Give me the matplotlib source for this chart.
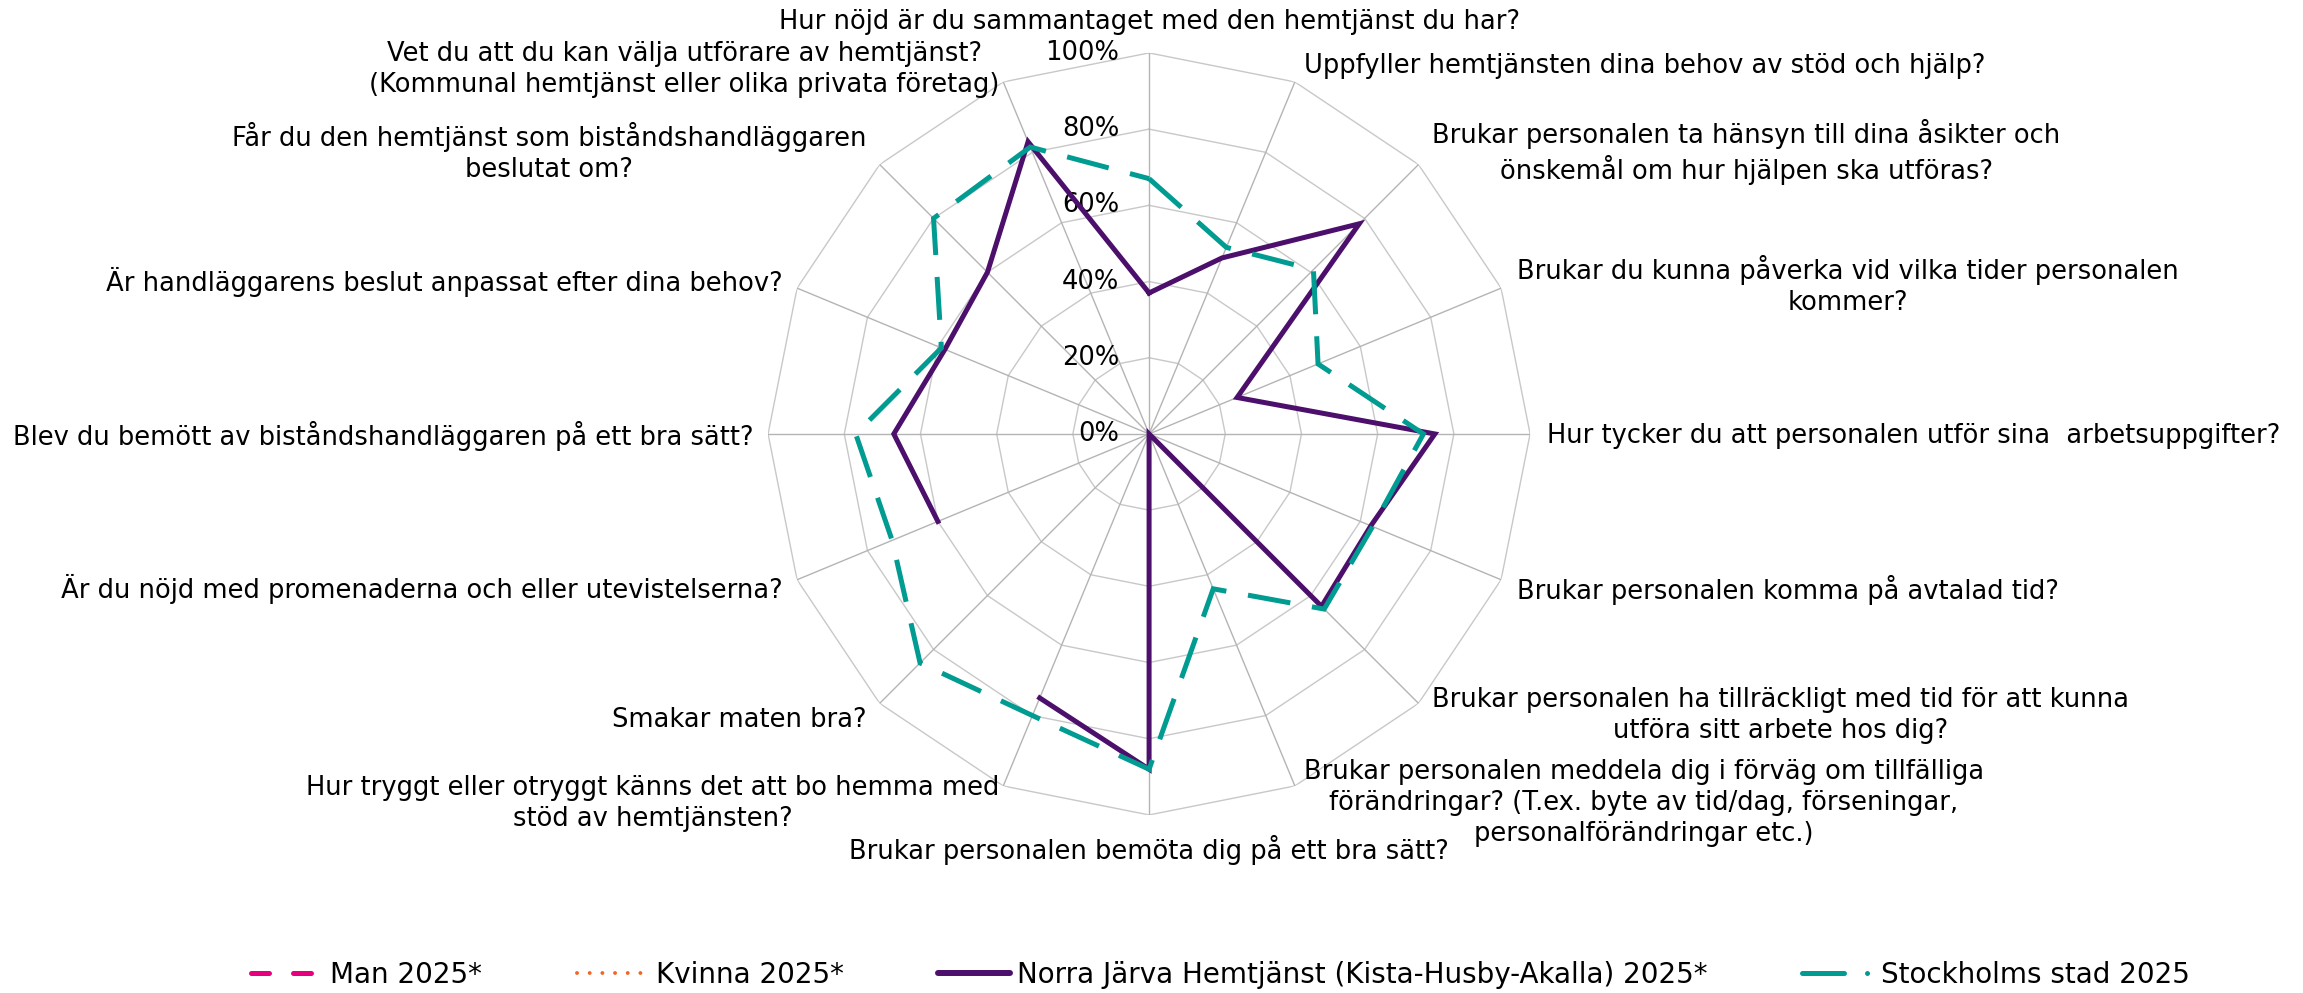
import numpy as np
import matplotlib.pyplot as plt
from matplotlib.lines import Line2D

plt.rcParams['font.family'] = ['DejaVu Sans']

# Frågor (kategorier), medurs från toppen
categories = [
    'Hur nöjd är du sammantaget med den hemtjänst du har?',
    'Uppfyller hemtjänsten dina behov av stöd och hjälp?',
    'Brukar personalen ta hänsyn till dina åsikter och\nönskemål om hur hjälpen ska utföras?',
    'Brukar du kunna påverka vid vilka tider personalen\nkommer?',
    'Hur tycker du att personalen utför sina  arbetsuppgifter?',
    'Brukar personalen komma på avtalad tid?',
    'Brukar personalen ha tillräckligt med tid för att kunna\nutföra sitt arbete hos dig?',
    'Brukar personalen meddela dig i förväg om tillfälliga\nförändringar? (T.ex. byte av tid/dag, förseningar,\npersonalförändringar etc.)',
    'Brukar personalen bemöta dig på ett bra sätt?',
    'Hur tryggt eller otryggt känns det att bo hemma med\nstöd av hemtjänsten?',
    'Smakar maten bra?',
    'Är du nöjd med promenaderna och eller utevistelserna?',
    'Blev du bemött av biståndshandläggaren på ett bra sätt?',
    'Är handläggarens beslut anpassat efter dina behov?',
    'Får du den hemtjänst som biståndshandläggaren\nbeslutat om?',
    'Vet du att du kan välja utförare av hemtjänst?\n(Kommunal hemtjänst eller olika privata företag)',
]

series_names = ['Man 2025*', 'Kvinna 2025*',
                'Norra Järva Hemtjänst (Kista-Husby-Akalla) 2025*',
                'Stockholms stad 2025']

# värden i procent (saknas = nan)
man_2025 = [np.nan] * 16
kvinna_2025 = [np.nan] * 16
norra_jarva_2025 = [37, 50, 78, 25, 75, 63, 64, 0, 88, 75, np.nan, 60, 67, 58, 60, 83]
stockholm_2025 = [67, 53, 61, 48, 72, 63.5, 65, 44, 88, 80, 85, 73, 77, 59, 80, 81.5]

r_ticks = [0, 20, 40, 60, 80, 100]
r_labels = ['0%', '20%', '40%', '60%', '80%', '100%']

# label offsets in pixels from spoke tip (dx, dy down)
label_off = [(0, -31), (9, -16), (14, -13), (16, -3), (17, 2), (16, 10), (14, 12), (9, 17),
             (0, 35), (-4, 18), (-13, 17), (-14, 9), (-15, 2), (-14, -6), (-13, -12), (-4, -12)]

c_man = '#E6007E'
c_kvinna = '#F26522'
c_norra = '#4C0F6B'
c_sthlm = '#009B91'
fs = 18.5

fig = plt.figure(figsize=(23.03, 9.93), dpi=100)
ax = fig.add_axes([0.3335, 0.1793, 0.3309, 0.7674], projection='polar')
ax.set_theta_zero_location('N')
ax.set_theta_direction(-1)
ax.set_ylim(0, 100)
ax.axis('off')

n = len(categories)
theta = np.arange(n) * 2 * np.pi / n
theta_c = np.append(theta, theta[0])

# polygon grid
for r in r_ticks[1:]:
    ax.plot(theta_c, [r] * (n + 1), color='#C8C8C8', lw=1.0, zorder=1)
for t in theta:
    ax.plot([t, t], [0, 100], color='#B4B4B4', lw=1.0, zorder=1)

for r, lbl in zip(r_ticks, r_labels):
    ax.annotate(lbl, xy=(0, r), xytext=(-30, 0), textcoords='offset pixels',
                ha='right', va='center', fontsize=fs, annotation_clip=False)

for i, (t, lbl) in enumerate(zip(theta, categories)):
    dx, dy = label_off[i]
    if i in (0, 8):
        ha = 'center'
    elif i < 8:
        ha = 'left'
    else:
        ha = 'right'
    ax.annotate(lbl, xy=(t, 100), xytext=(dx, -dy), textcoords='offset pixels',
                ha=ha, va='center', multialignment='center', fontsize=fs,
                linespacing=1.25, annotation_clip=False)

def closed(v):
    return np.append(v, v[0])

ax.plot(theta_c, closed(man_2025), color=c_man, lw=3.6, ls=(0, (4.6, 4.8)))
ax.plot(theta_c, closed(kvinna_2025), color=c_kvinna, lw=2.8, ls=':')
ax.plot(theta_c, closed(norra_jarva_2025), color=c_norra, lw=3.6,
        solid_joinstyle='miter', zorder=3)
ax.plot(theta_c, closed(stockholm_2025), color=c_sthlm, lw=3.6, ls=(0, (8.6, 4.4)),
        dash_joinstyle='miter', zorder=4)

handles = [
    Line2D([], [], color=c_man, lw=3.6, ls=(0, (3.6, 4.8)), dash_capstyle='round'),
    Line2D([], [], color=c_kvinna, lw=2.8, ls=(0, (0.01, 3.25)), dash_capstyle='round'),
    Line2D([], [], color=c_norra, lw=4.3, solid_capstyle='round'),
    Line2D([], [], color=c_sthlm, lw=3.6, ls=(0, (8.4, 4.6, 0.01, 10)), dash_capstyle='round'),
]
fig.legend(handles, series_names, loc='center', bbox_to_anchor=(0.530, 0.018), ncol=4,
           frameon=False, fontsize=20, handlelength=2.6, handletextpad=0.25,
           columnspacing=3.4)

fig.savefig('out.png', dpi=100)
